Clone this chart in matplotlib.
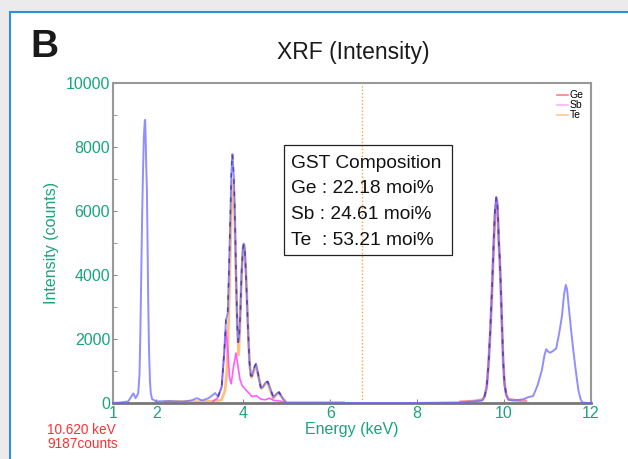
#!/usr/bin/env python
"""XRF spectrum of a GST film with element fits."""
import matplotlib
matplotlib.use('Agg')
import matplotlib.pyplot as plt
import numpy as np
from matplotlib.patches import Rectangle

plt.rcParams['font.family'] = ['Liberation Sans', 'Noto Sans CJK SC', 'DejaVu Sans']

GREEN = '#1aa37f'

# measured spectrum (keV, counts)
meas_e = [1.0, 1.2, 1.35, 1.42, 1.47, 1.52, 1.58, 1.61, 1.63, 1.65, 1.67, 1.69,
          1.71, 1.73, 1.74, 1.75, 1.765, 1.78, 1.795, 1.81, 1.83, 1.85, 1.87,
          1.9, 2.0, 2.3, 2.6, 2.8, 2.93, 3.05, 3.2, 3.35, 3.42, 3.5, 3.56, 3.6,
          3.64, 3.67, 3.70, 3.72, 3.74, 3.75, 3.765, 3.78, 3.80, 3.82, 3.84,
          3.86, 3.88, 3.9, 3.93, 3.96, 3.99, 4.01, 4.03, 4.05, 4.08, 4.11, 4.14,
          4.17, 4.2, 4.26, 4.29, 4.34, 4.4, 4.45, 4.52, 4.56, 4.62, 4.69, 4.76,
          4.82, 4.88, 4.95, 5.0, 6.0, 7.0, 8.0, 9.0, 9.3, 9.5, 9.55, 9.6, 9.64,
          9.68, 9.72, 9.76, 9.79, 9.82, 9.84, 9.86, 9.88, 9.9, 9.92, 9.95, 9.98,
          10.01, 10.05, 10.1, 10.2, 10.35, 10.45, 10.55, 10.67, 10.77, 10.87,
          10.93, 10.97, 11.02, 11.06, 11.13, 11.2, 11.27, 11.33, 11.38, 11.42,
          11.45, 11.48, 11.54, 11.6, 11.66, 11.71, 11.76, 11.8, 11.9, 12.0]
meas_c = [0, 20, 50, 200, 300, 150, 300, 900, 2200, 4000, 5800, 7200,
          8300, 8800, 8850, 8400, 7400, 6700, 5000, 3200, 1600, 700, 300,
          120, 50, 60, 40, 80, 150, 80, 150, 310, 200, 500, 1600, 2600,
          2800, 4200, 5800, 7000, 7700, 7780, 7400, 7100, 6200, 4800, 3500,
          2400, 1900, 2000, 2800, 4100, 4850, 4970, 4850, 4300, 3300, 2200, 1300,
          850, 850, 1150, 1220, 900, 480, 500, 650, 670, 450, 180, 280,
          340, 200, 50, 0, 0, 0, 0, 20, 50, 80, 200, 500, 1200,
          2200, 3500, 5000, 6000, 6430, 6350, 5800, 5000, 4500, 3800, 2500, 1300,
          600, 250, 100, 80, 100, 120, 180, 220, 550, 1030,
          1500, 1680, 1600, 1570, 1630, 1710, 2200, 2700, 3400, 3690,
          3550, 3120, 2300, 1560, 900, 400, 120, 20, 0, 0]

# Ge fit
ge_e = [9.0, 9.3, 9.5, 9.55, 9.6, 9.64, 9.68, 9.72, 9.76, 9.79, 9.82, 9.84,
        9.86, 9.88, 9.9, 9.92, 9.95, 9.98, 10.01, 10.05, 10.1, 10.3, 10.5]
ge_c = [40, 60, 100, 200, 500, 1150, 2150, 3400, 4900, 5900, 6340, 6250,
        5700, 4950, 4450, 3750, 2450, 1250, 600, 250, 120, 80, 60]

# Sb fit
sb_e = [3.3, 3.4, 3.5, 3.55, 3.6, 3.64, 3.68, 3.72, 3.77, 3.83, 3.87, 3.92,
        3.97, 4.05, 4.1, 4.2, 4.3, 4.4, 4.5, 4.6, 4.7, 4.85, 5.0]
sb_c = [50, 150, 500, 1400, 2280, 1700, 800, 600, 1100, 1560, 1200, 750,
        550, 420, 350, 200, 230, 120, 100, 150, 80, 60, 0]

# Te fit
te_e = [2.2, 2.6, 3.0, 3.3, 3.5, 3.58, 3.62, 3.66, 3.7, 3.73, 3.75, 3.77,
        3.8, 3.83, 3.86, 3.89, 3.92, 3.95, 3.99, 4.01, 4.03, 4.06, 4.09, 4.12,
        4.15, 4.19, 4.27, 4.3, 4.35, 4.42, 4.5, 4.56, 4.63, 4.69, 4.77, 4.82,
        4.9, 5.0, 6.3]
te_c = [40, 50, 40, 60, 100, 400, 1000, 2500, 4800, 6400, 6970, 6700,
        5800, 4000, 2400, 1500, 2300, 3700, 4800, 4970, 4800, 4100, 3000, 1900,
        1100, 800, 1100, 1150, 800, 450, 600, 640, 350, 150, 280, 320,
        150, 20, 20]

composition = ['GST Composition', 'Ge : 22.18 moi%', 'Sb : 24.61 moi%',
               'Te  : 53.21 moi%']
cursor_e = 6.72

fig = plt.figure(figsize=(6.28, 4.59), dpi=100, facecolor='#ebebeb')
fig.patches.append(Rectangle((10 / 628, -0.1), 1.0, (459 - 12) / 459 + 0.1,
                             transform=fig.transFigure, facecolor='white',
                             edgecolor='#2e90d8', linewidth=1.5, zorder=-10))
ax = fig.add_axes([113 / 628, 56 / 459, 478 / 628, 320 / 459])
ax.set_zorder(1)

ax.plot(te_e, te_c, color='#ffb060', lw=2.0, alpha=0.8, label='Te', zorder=2)
ax.plot(sb_e, sb_c, color='#ff40ff', lw=1.2, alpha=0.85, label='Sb', zorder=2)
ax.plot(ge_e, ge_c, color='#ff5050', lw=2.0, alpha=0.6, label='Ge', zorder=2)
ax.plot(meas_e, meas_c, color='#6a6aff', lw=1.4, alpha=0.75, zorder=3)
e = np.array(meas_e)
c = np.array(meas_c, dtype=float)
overlap = ((e > 3.4) & (e < 5.0)) | ((e > 9.5) & (e < 10.1))
ax.plot(np.where(overlap, e, np.nan), np.where(overlap, c, np.nan),
        color='#30309a', lw=1.1, alpha=0.75, dashes=(3, 5), zorder=4)
ax.axvline(cursor_e, color='#ffa040', lw=1.0, ls=(0, (1, 1.5)), zorder=1)

ax.set_xlim(1, 12)
ax.set_ylim(0, 10000)
ax.set_xticks([1, 2, 4, 6, 8, 10, 12])
ax.set_yticks(range(0, 10001, 2000))
ax.set_yticks(range(1000, 10000, 2000), minor=True)
ax.tick_params(axis='both', colors='#888888', labelcolor=GREEN, labelsize=11.5,
               direction='in', length=3, pad=2)
ax.tick_params(axis='y', which='minor', colors='#888888', direction='in', length=3)
for s in ax.spines.values():
    s.set_color('#999999')
    s.set_linewidth(1.5)
ax.spines['bottom'].set_color('#777777')
ax.spines['bottom'].set_linewidth(2)
ax.set_xlabel('Energy (keV)', color=GREEN, fontsize=11.5, labelpad=1)
ax.set_ylabel('Intensity (counts)', color=GREEN, fontsize=11.5, labelpad=5)

handles, labels = ax.get_legend_handles_labels()
order = [2, 1, 0]
leg = ax.legend([handles[i] for i in order], [labels[i] for i in order],
                loc='upper right', frameon=False, fontsize=7.5, handlelength=1,
                handletextpad=0.2, labelspacing=0.0, borderaxespad=0.3)
for h, col in zip(leg.get_lines(), ['#ff8080', '#ffb0ff', '#ffc890']):
    h.set_color(col)
    h.set_alpha(1)
    h.set_linewidth(1.2)

ax.add_patch(Rectangle((0.358, 0.4625), 0.351, 0.344, transform=ax.transAxes,
                       fill=False, edgecolor='#222222', lw=0.9, zorder=5))
for i, line in enumerate(composition):
    ax.text(0.372, 0.75 - i * 0.081, line, transform=ax.transAxes,
            fontsize=13.8, va='center', ha='left', color='#111111', zorder=6)

fig.text(30 / 628, 1 - 47 / 459, 'B', fontsize=28, fontweight='bold',
         va='center', ha='left', color='#1a1a1a')
fig.text(353 / 628, 1 - 52 / 459, 'XRF (Intensity)', fontsize=16.5,
         va='center', ha='center', color='#1a1a1a')
fig.text(47 / 628, 1 - 437 / 459, '10.620 keV\n9187counts', fontsize=9.8,
         color='#ff3030', va='center', ha='left', linespacing=1.0)

fig.savefig('out.png', dpi=100, facecolor=fig.get_facecolor())
